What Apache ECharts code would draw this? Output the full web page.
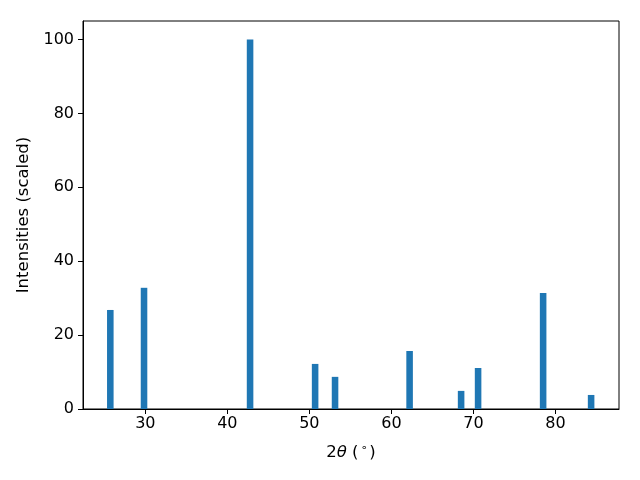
<!DOCTYPE html>
<html>
<head>
<meta charset="utf-8">
<script src="https://cdn.jsdelivr.net/npm/echarts@6/dist/echarts.min.js"></script>
<style>html,body{margin:0;padding:0;background:#fff;}#c{width:640px;height:480px;}</style>
</head>
<body>
<div id="c"></div>
<script>
var twoTheta = [25.73, 29.84, 42.77, 50.70, 53.13, 62.22, 68.50, 70.57, 78.50, 84.35];
var intensity = [26.8, 32.8, 100, 12.2, 8.7, 15.7, 4.9, 11.1, 31.4, 3.8];
var xTicks = [30, 40, 50, 60, 70, 80];
var yTicks = [0, 20, 40, 60, 80, 100];
var barWidthUnits = 0.8;

var data = twoTheta.map(function (x, i) { return [x, intensity[i]]; });
var font = 'DejaVu Sans';
var chart = echarts.init(document.getElementById('c'), null, {renderer: 'canvas'});
chart.setOption({
  animation: false,
  backgroundColor: '#fff',
  grid: {left: 83, right: 21, top: 21, bottom: 71, show: true, borderColor: '#000', borderWidth: 1, backgroundColor: 'transparent'},
  xAxis: {
    type: 'value', min: 22.4, max: 87.75,
    name: '{a|2}{i|θ}{a| (}{s|∘}{a|)}',
    nameLocation: 'middle', nameGap: 34,
    nameTextStyle: {
      rich: {
        a: {fontFamily: font, fontSize: 16.5, color: '#000'},
        i: {fontFamily: font, fontSize: 16.5, fontStyle: 'italic', color: '#000'},
        s: {fontFamily: font, fontSize: 11, color: '#000', verticalAlign: 'top', padding: [0, 2, 8, 2]}
      }
    },
    splitLine: {show: false},
    axisLine: {show: true, onZero: false, lineStyle: {color: '#000', width: 1}},
    axisTick: {show: true, length: 5, lineStyle: {color: '#000'}, customValues: xTicks},
    axisLabel: {color: '#000', fontFamily: font, fontSize: 16, margin: 7, customValues: xTicks}
  },
  yAxis: {
    type: 'value', min: 0, max: 105,
    name: 'Intensities (scaled)',
    nameLocation: 'middle', nameGap: 46,
    nameTextStyle: {fontFamily: font, fontSize: 16.5, color: '#000'},
    splitLine: {show: false},
    axisLine: {show: true, lineStyle: {color: '#000', width: 1}},
    axisTick: {show: true, length: 5, lineStyle: {color: '#000'}, customValues: yTicks},
    axisLabel: {color: '#000', fontFamily: font, fontSize: 16, margin: 9, padding: [3, 0, 0, 0], customValues: yTicks}
  },
  series: [{
    type: 'custom',
    data: data,
    encode: {x: 0, y: 1},
    renderItem: function (params, api) {
      var x = api.value(0), y = api.value(1);
      var p0 = api.coord([x - barWidthUnits / 2, y]);
      var p1 = api.coord([x + barWidthUnits / 2, 0]);
      return {
        type: 'rect',
        shape: {x: p0[0], y: p0[1], width: p1[0] - p0[0], height: p1[1] - p0[1]},
        style: {fill: '#1f77b4'}
      };
    }
  }]
});
</script>
</body>
</html>
